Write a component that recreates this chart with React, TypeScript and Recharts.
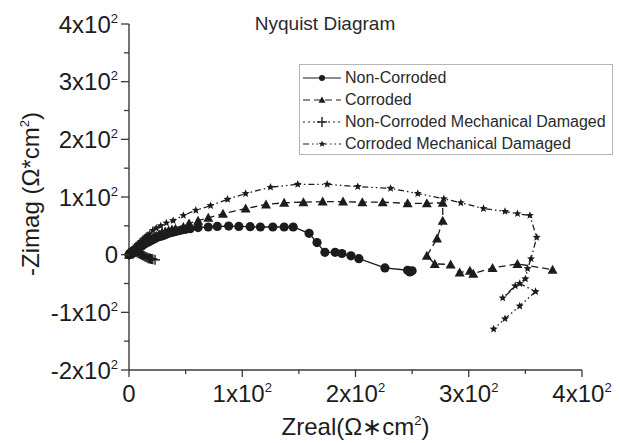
import { ScatterChart, Scatter, XAxis, YAxis, Legend, Label } from "recharts";

// Zreal / -Zimag pairs (Ω·cm²)
const nonCorroded: [number, number][] = [
  [0, 0], [0.5, 1], [1, 2], [1.5, 3], [2, 4], [3, 5], [4, 6], [5, 7.5], [6, 9], [7, 10.5],
  [8, 12], [9.5, 13.5], [11, 15], [12.5, 17], [14, 19], [15.5, 20.5], [17, 22], [19, 24],
  [21, 26], [23, 28], [25, 30], [27.5, 31.5], [30, 33], [32.5, 35], [35, 37], [38, 38.5],
  [41, 40], [44, 41.5], [47, 43], [50, 44], [54, 45], [61, 47], [70, 48], [78, 49],
  [88, 49.5], [97, 49], [107, 48.5], [116, 48], [127, 48], [137, 48], [145, 48], [159, 37],
  [166, 21], [173, 4], [182, 4], [188, 2], [196, -2], [203, -7], [226, -23], [246, -27],
  [248, -30], [250, -28],
];

const corroded: [number, number][] = [
  [0, 0], [0.5, 1], [1, 2], [2, 3.5], [3, 5], [4, 7], [5, 9], [6.5, 11], [8, 13], [9.5, 15.5],
  [11, 18], [13, 20.5], [15, 23], [17, 25.5], [19, 28], [21.5, 30.5], [24, 33], [26.5, 35.5],
  [29, 38], [32, 40], [35, 42], [38, 43.5], [41, 45], [48, 48], [53, 54], [61, 59], [70, 64],
  [83, 71], [103, 80], [121, 87], [137, 90], [154, 91], [171, 92], [189, 92], [206, 91],
  [224, 91], [246, 89], [263, 89], [277, 90], [277, 59], [272, 28], [263, -2], [270, -16],
  [284, -17], [292, -31], [301, -28], [304, -33], [321, -23], [343, -16], [374, -26],
];

const nonCorrodedDamaged: [number, number][] = [
  [0, 0], [0.5, 1], [1, 2], [1.5, 3], [2, 4], [3, 5], [4, 5.5], [5, 5], [6, 4.5], [7, 4],
  [8, 3], [9, 2], [10, 1], [11, 0], [12, -1], [13, -2], [14, -3], [15, -4], [16, -5],
  [17, -6], [18, -6.5], [19, -7], [20, -7.5], [21, -8], [23, -9],
];

const corrodedDamaged: [number, number][] = [
  [0, 0], [0.5, 1.5], [1, 3], [1.5, 4.5], [2, 6], [3, 8], [4, 10], [5, 12.5], [6, 15],
  [7.5, 17.5], [9, 20], [10.5, 23], [12, 26], [13.5, 28.5], [15, 31], [16.5, 33.5], [18, 36],
  [21, 42], [24, 46], [28, 50], [33, 55], [39, 59], [48, 68], [59, 77], [72, 85], [87, 96],
  [103, 106], [125, 117], [149, 122], [175, 122], [202, 118], [231, 115], [255, 106],
  [278, 97], [293, 90], [313, 80], [332, 75], [343, 71], [354, 68], [360, 30], [355, -7],
  [352, -24], [350, -42], [341, -54], [330, -75], [345, -50], [359, -64], [345, -89],
  [332, -111], [322, -129],
];

const X_TICKS = [0, 50, 100, 150, 200, 250, 300, 350, 400];
const Y_TICKS = [-200, -150, -100, -50, 0, 50, 100, 150, 200, 250, 300, 350, 400];

const INK = "#1c1c1c";
const AXIS = "#3a3a3a";
const FONT = "'Liberation Sans', Arial, sans-serif";

const toPoints = (arr: [number, number][]) => arr.map(([x, y]) => ({ x, y }));

// markers
function Dot({ cx, cy, r = 4.6 }: any) {
  return <circle cx={cx} cy={cy} r={r} fill={INK} />;
}
function Tri({ cx, cy, s = 5 }: any) {
  return <polygon points={`${cx},${cy - s} ${cx + s},${cy + s * 0.8} ${cx - s},${cy + s * 0.8}`} fill={INK} />;
}
function Plus({ cx, cy, s = 5 }: any) {
  return (
    <g stroke={INK} strokeWidth={1.4}>
      <line x1={cx - s} x2={cx + s} y1={cy} y2={cy} />
      <line x1={cx} x2={cx} y1={cy - s} y2={cy + s} />
    </g>
  );
}
function Star({ cx, cy, s = 4.2 }: any) {
  const pts: string[] = [];
  for (let i = 0; i < 10; i++) {
    const r = i % 2 === 0 ? s : s * 0.45;
    const a = -Math.PI / 2 + (i * Math.PI) / 5;
    pts.push(`${cx + r * Math.cos(a)},${cy + r * Math.sin(a)}`);
  }
  return <polygon points={pts.join(" ")} fill={INK} />;
}

const SERIES = [
  { name: "Non-Corroded", data: nonCorroded, dash: undefined, Marker: Dot, legendSize: 3 },
  { name: "Corroded", data: corroded, dash: "7 4", Marker: Tri, legendSize: 3.5 },
  { name: "Non-Corroded Mechanical Damaged", data: nonCorrodedDamaged, dash: "2 3", Marker: Plus, legendSize: 5 },
  { name: "Corroded Mechanical Damaged", data: corrodedDamaged, dash: "6 3 1.5 3 1.5 3", Marker: Star, legendSize: 3.5 },
];

function sciLabel(v: number) {
  if (v === 0) return { base: "0", sup: "" };
  return { base: `${v / 100}x10`, sup: "2" };
}

function XTick({ x, y, payload }: any) {
  const v = payload.value;
  const major = v % 100 === 0;
  const { base, sup } = sciLabel(v);
  return (
    <g>
      <line x1={x} x2={x} y1={y} y2={y + (major ? 7 : 4)} stroke={AXIS} strokeWidth={1.3} />
      {major && (
        <text x={x} y={y + 32} textAnchor="middle" fontSize={24} fontFamily={FONT} fill={INK}>
          {base}
          {sup && <tspan dy={-10} fontSize={13}>{sup}</tspan>}
        </text>
      )}
    </g>
  );
}

function YTick({ x, y, payload }: any) {
  const v = payload.value;
  const major = v % 100 === 0;
  const { base, sup } = sciLabel(v);
  return (
    <g>
      <line x1={x - (major ? 8 : 5)} x2={x} y1={y} y2={y} stroke={AXIS} strokeWidth={1.3} />
      {major && (
        <text x={x - 11} y={y + 8.5} textAnchor="end" fontSize={24} fontFamily={FONT} fill={INK}>
          {base}
          {sup && <tspan dy={-10} fontSize={13}>{sup}</tspan>}
        </text>
      )}
    </g>
  );
}

function XTitle({ viewBox }: any) {
  const { x, y, width } = viewBox;
  return (
    <text x={x + width / 2} y={y + 65} textAnchor="middle" fontSize={24} fontFamily={FONT} fill={INK}>
      Zreal(Ω∗cm<tspan dy={-10} fontSize={13}>2</tspan><tspan dy={10}>)</tspan>
    </text>
  );
}

function YTitle({ viewBox }: any) {
  const { x, y, height } = viewBox;
  const cx = x - 10;
  const cy = y + height / 2 - 3;
  return (
    <text
      x={cx}
      y={cy}
      transform={`rotate(-90 ${cx} ${cy})`}
      textAnchor="middle"
      fontSize={24}
      fontFamily={FONT}
      fill={INK}
    >
      -Zimag (Ω*cm<tspan dy={-10} fontSize={13}>2</tspan><tspan dy={10}>)</tspan>
    </text>
  );
}

function LegendBox() {
  return (
    <div
      style={{
        border: "1px solid #b5b5b5",
        background: "#fff",
        width: 314,
        height: 91,
        boxSizing: "border-box",
        paddingTop: 2,
        fontFamily: FONT,
        fontSize: 16,
        color: "#2a2a2a",
      }}
    >
      {SERIES.map((s) => (
        <div key={s.name} style={{ display: "flex", alignItems: "center", height: 22 }}>
          <svg width={44} height={14} style={{ flex: "none" }}>
            <line x1={3} x2={41} y1={7} y2={7} stroke={INK} strokeWidth={1.2} strokeDasharray={s.dash} />
            <s.Marker cx={22} cy={7} r={s.legendSize} s={s.legendSize} />
          </svg>
          <span style={{ whiteSpace: "nowrap", marginLeft: 1 }}>{s.name}</span>
        </div>
      ))}
    </div>
  );
}

export default function App() {
  return (
    <div style={{ position: "absolute", left: 0, top: 0, width: 621, height: 443, background: "#fff" }}>
      <ScatterChart width={621} height={443} margin={{ top: 24, right: 39, bottom: 0, left: 49 }}>
        <XAxis
          type="number"
          dataKey="x"
          domain={[0, 400]}
          ticks={X_TICKS}
          interval={0}
          tick={<XTick />}
          tickSize={0}
          tickMargin={0}
          tickLine={false}
          axisLine={{ stroke: AXIS, strokeWidth: 1.4 }}
          height={73}
        >
          <Label content={<XTitle />} />
        </XAxis>
        <YAxis
          type="number"
          dataKey="y"
          domain={[-200, 400]}
          ticks={Y_TICKS}
          interval={0}
          tick={<YTick />}
          tickSize={0}
          tickMargin={0}
          tickLine={false}
          axisLine={{ stroke: AXIS, strokeWidth: 1.4 }}
          width={80}
        >
          <Label content={<YTitle />} />
        </YAxis>
        <Legend
          layout="vertical"
          align="center"
          verticalAlign="middle"
          content={<LegendBox />}
          wrapperStyle={{ left: 299, top: 64, width: 314, height: 91 }}
        />
        {SERIES.map((s) => (
          <Scatter
            key={s.name}
            name={s.name}
            data={toPoints(s.data)}
            line={{ stroke: INK, strokeWidth: 1.3, strokeDasharray: s.dash }}
            lineType="joint"
            shape={(p: any) => <s.Marker cx={p.cx} cy={p.cy} />}
            isAnimationActive={false}
          />
        ))}
      </ScatterChart>
      <svg width={621} height={443} style={{ position: "absolute", left: 0, top: 0, pointerEvents: "none" }}>
        <text x={325} y={30} textAnchor="middle" fontSize={19} fontFamily={FONT} fill="#2a2a2a">
          Nyquist Diagram
        </text>
      </svg>
    </div>
  );
}
